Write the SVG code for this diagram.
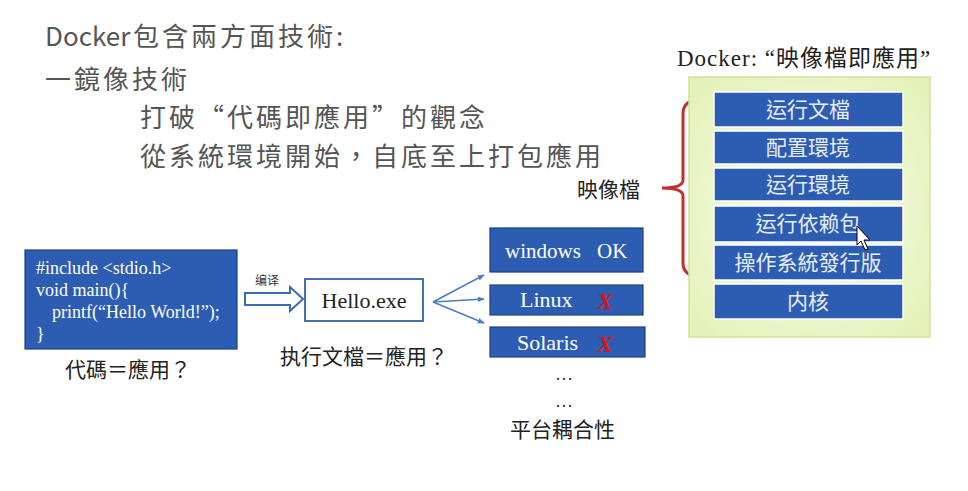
<svg xmlns="http://www.w3.org/2000/svg" width="968" height="491" viewBox="0 0 968 491">
<defs>
<style>
.head{font-family:"Noto Sans CJK TC","Noto Sans",sans-serif;font-size:26px;fill:#555;letter-spacing:3px}
.cap{font-family:"Noto Sans CJK TC",sans-serif;font-size:21px;fill:#222}
.code{font-family:"Liberation Serif",serif;font-size:18px;fill:#fff}
.ser{font-family:"Liberation Serif","Noto Sans CJK TC",serif;fill:#fff}
.blue{fill:#2d5db2;stroke:#1d3f82;stroke-width:1.2}
.layer{fill:#2d5db2;stroke:#ffffff;stroke-width:1.5}
.lt{font-family:"Noto Sans CJK TC",sans-serif;font-size:21px;fill:#e8eef9;text-anchor:middle}
.x{font-family:"Liberation Serif",serif;font-size:24px;font-weight:bold;font-style:italic;fill:#d41818}
.fan{stroke:#4a7cc4;stroke-width:1.5;fill:none;marker-end:url(#ah)}
</style>
<marker id="ah" viewBox="0 0 10 10" refX="9" refY="5" markerWidth="7" markerHeight="7" orient="auto" markerUnits="userSpaceOnUse">
<path d="M0,1 L10,5 L0,9 z" fill="#4a7cc4"/>
</marker>
<radialGradient id="gp" cx="0.5" cy="0.5" r="0.7">
<stop offset="0" stop-color="#fbfdf0"/>
<stop offset="1" stop-color="#e2f1b4"/>
</radialGradient>
</defs>
<rect width="968" height="491" fill="#ffffff"/>

<g id="heading">
<text class="head" x="45" y="46"><tspan letter-spacing="0">Docker</tspan><tspan x="133">包含兩方面技術:</tspan></text>
<text class="head" x="45" y="89">一鏡像技術</text>
<text class="head" x="140" y="127">打破“代碼即應用”的觀念</text>
<text class="head" x="140" y="166">從系統環境開始，自底至上打包應用</text>
</g>

<g id="code-box">
<rect class="blue" x="25" y="250" width="212" height="99"/>
<text class="code" x="36" y="274">#include &lt;stdio.h&gt;</text>
<text class="code" x="36" y="296">void main(){</text>
<text class="code" x="52" y="318">printf(“Hello World!”);</text>
<text class="code" x="36" y="340">}</text>
<text class="cap" x="65" y="377">代碼＝應用？</text>
</g>

<g id="compile-arrow">
<polygon points="245,293 290,293 290,287 303,299 290,311 290,305 245,305" fill="#ffffff" stroke="#3a6ab8" stroke-width="2"/>
<text x="255" y="285" font-family="Noto Sans CJK SC,sans-serif" font-size="12" fill="#333">编译</text>
</g>

<g id="hello-exe">
<rect x="305" y="279" width="118" height="42" fill="#ffffff" stroke="#4a70b4" stroke-width="2"/>
<text class="ser" x="364" y="308" font-size="22" style="fill:#222" text-anchor="middle">Hello.exe</text>
<text class="cap" x="280" y="364">执行文檔＝應用？</text>
</g>

<g id="connectors">
<line class="fan" x1="433" y1="302" x2="484" y2="275"/>
<line class="fan" x1="433" y1="302" x2="484" y2="299"/>
<line class="fan" x1="433" y1="302" x2="484" y2="323"/>
<path d="M703,99 Q683,99 683,114 L683,180 Q683,188 662,188 Q683,188 683,196 L683,263 Q683,277 703,277" fill="none" stroke="#c03232" stroke-width="3"/>
</g>

<g id="platform-windows">
<rect class="blue" x="490" y="228" width="153" height="44"/>
<text class="ser" x="505" y="258" font-size="21">windows</text>
<text class="ser" x="597" y="258" font-size="21">OK</text>
</g>
<g id="platform-linux">
<rect class="blue" x="490" y="285" width="153" height="30"/>
<text class="ser" x="520" y="307" font-size="22">Linux</text>
<text class="x" x="597" y="309">X</text>
</g>
<g id="platform-solaris">
<rect class="blue" x="490" y="327" width="155" height="30"/>
<text class="ser" x="517" y="350" font-size="22">Solaris</text>
<text class="x" x="597" y="352">X</text>
</g>
<g id="platform-more">
<text x="564" y="380" font-family="Liberation Serif,serif" font-size="18" fill="#333" text-anchor="middle">…</text>
<text x="564" y="407" font-family="Liberation Serif,serif" font-size="18" fill="#333" text-anchor="middle">…</text>
<text class="cap" x="510" y="437">平台耦合性</text>
</g>

<g id="docker-image">
<text x="677" y="66" font-family="Liberation Serif,'Noto Sans CJK TC',serif" font-size="23" fill="#222" letter-spacing="1">Docker: “映像檔即應用”</text>
<rect x="689" y="77" width="241" height="260" fill="url(#gp)" stroke="#cfe29c" stroke-width="1.5"/>
<text class="cap" x="577" y="197">映像檔</text>
</g>
<g id="layer-1"><rect class="layer" x="714" y="92" width="189" height="35"/><text class="lt" x="808" y="117">运行文檔</text></g>
<g id="layer-2"><rect class="layer" x="714" y="131" width="189" height="33"/><text class="lt" x="808" y="155">配置環境</text></g>
<g id="layer-3"><rect class="layer" x="714" y="168" width="189" height="33"/><text class="lt" x="808" y="192">运行環境</text></g>
<g id="layer-4"><rect class="layer" x="714" y="206" width="189" height="36"/><text class="lt" x="808" y="231">运行依赖包</text></g>
<g id="layer-5"><rect class="layer" x="714" y="245" width="189" height="35"/><text class="lt" x="808" y="270">操作系統發行版</text></g>
<g id="layer-6"><rect class="layer" x="714" y="284" width="189" height="35"/><text class="lt" x="808" y="309">内核</text></g>

<g id="cursor">
<path d="M857,226 L857,245 L861,241 L865,250 L868,249 L864,240 L870,240 Z" fill="#ffffff" stroke="#000" stroke-width="1"/>
</g>
</svg>
